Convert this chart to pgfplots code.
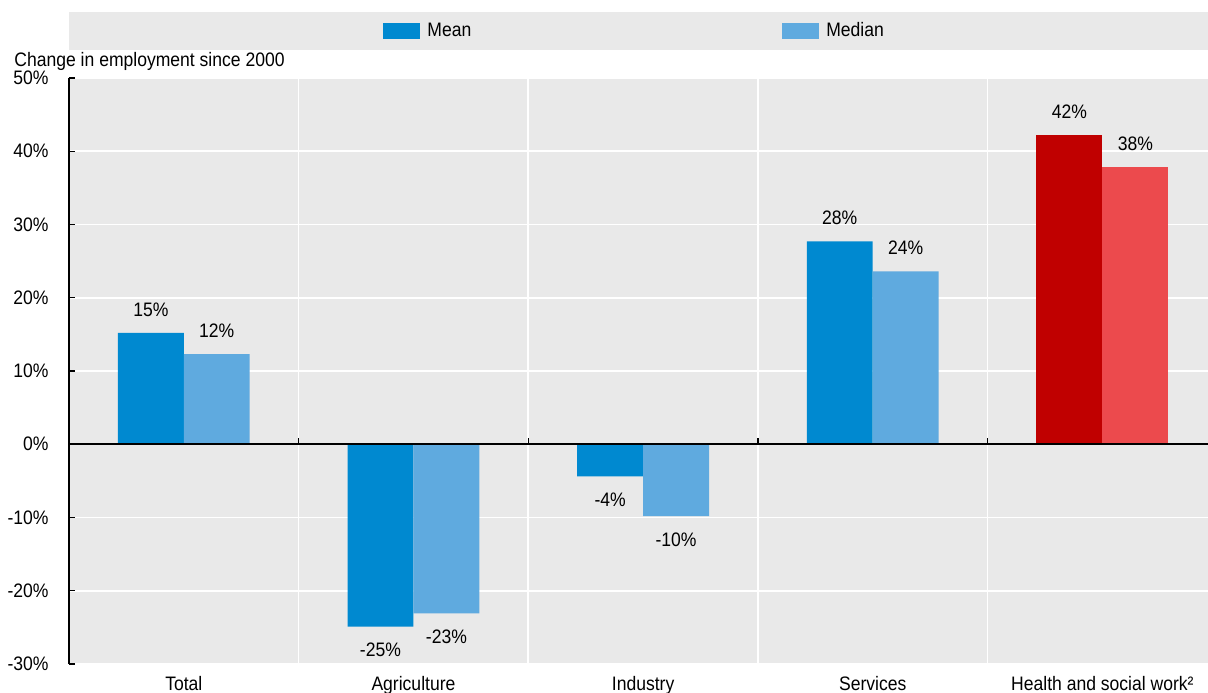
\documentclass[border=0pt]{standalone}
\usepackage{fontspec}
\setmainfont{Liberation Sans}[FakeStretch=0.9]
\usepackage{pgfplots}
\pgfplotsset{compat=1.18}

\definecolor{bggray}{HTML}{E9E9E9}
\definecolor{meanblue}{HTML}{0089D0}
\definecolor{medblue}{HTML}{5FAADF}
\definecolor{meanred}{HTML}{C00000}
\definecolor{medred}{HTML}{EC4A4D}
\newcommand\fs{\fontsize{9.75pt}{11pt}\selectfont}

\begin{document}
\begin{tikzpicture}
\begin{axis}[
    name=ax,
    scale only axis,
    width=569.5pt, height=293pt,
    clip=false,
    xmin=-0.5, xmax=4.46,
    ymin=-30, ymax=50,
    axis background/.style={fill=bggray},
    axis x line*=bottom,
    x axis line style={draw=none},
    axis y line*=left,
    y axis line style={black, line width=1pt},
    xtick={0,1,2,3,4},
    xticklabels={Total, Agriculture, Industry, Services, Health and social work²},
    minor xtick={0.5,1.5,2.5,3.5},
    xminorgrids,
    minor x grid style={white, line width=0.8pt},
    x tick style={draw=none},
    minor x tick style={draw=none},
    xticklabel style={font=\fs, anchor=base, yshift=-10.5pt},
    ytick={-30,-20,...,50},
    yticklabels={-30\%,-20\%,-10\%,0\%,10\%,20\%,30\%,40\%,50\%},
    ymajorgrids,
    major y grid style={white, line width=0.8pt},
    y tick style={black, line width=0.6pt},
    tick align=inside,
    major tick length=3pt,
    yticklabel style={font=\fs, inner sep=0pt, xshift=-10pt},
    ylabel={Change in employment since 2000},
    ylabel style={rotate=-90, at={(rel axis cs:0,1)}, anchor=base west,
        inner sep=0pt, xshift=-27.5pt, yshift=5.5pt, font=\fs},
    ybar,
    bar width=0.287,
    point meta=explicit symbolic,
    visualization depends on=rawy \as \ry,
    nodes near coords,
    nodes near coords style={font=\fs, black, inner sep=8pt,
        anchor={\ifdim\ry pt<0pt north\else south\fi}},
    legend columns=2,
    legend style={at={(rel axis cs:0.2757,1.0802)}, anchor=west,
        draw=none, fill=none, inner sep=0pt, font=\fs,
        nodes={inner sep=2pt},
        /tikz/every even column/.append style={column sep=153.5pt}},
    legend image code/.code={\fill[#1] (0pt,-4pt) rectangle (18.5pt,4pt); \path (20pt,0pt);},
]
\fill[bggray] (rel axis cs:0,1.0478) rectangle (rel axis cs:1,1.1126);

\addplot[fill=meanblue, draw=none, bar shift=-0.1436] coordinates {
    (0,15.2) [15\%] (1,-24.9) [-25\%] (2,-4.4) [-4\%] (3,27.7) [28\%]};
\addlegendentry{Mean}
\addplot[fill=medblue, draw=none, bar shift=0.1436] coordinates {
    (0,12.3) [12\%] (1,-23.1) [-23\%] (2,-9.8) [-10\%] (3,23.6) [24\%]};
\addlegendentry{Median}
\addplot[fill=meanred, draw=none, bar shift=-0.1436, forget plot] coordinates {
    (4,42.2) [42\%]};
\addplot[fill=medred, draw=none, bar shift=0.1436, forget plot] coordinates {
    (4,37.8) [38\%]};

\draw[black, line width=1pt] (axis cs:-0.5,0) -- (axis cs:4.46,0);
\draw[black, line width=0.6pt] (axis cs:0.5,0) -- ([yshift=3pt]axis cs:0.5,0);
\draw[black, line width=0.6pt] (axis cs:1.5,0) -- ([yshift=3pt]axis cs:1.5,0);
\draw[black, line width=0.6pt] (axis cs:2.5,0) -- ([yshift=3pt]axis cs:2.5,0);
\draw[black, line width=0.6pt] (axis cs:3.5,0) -- ([yshift=3pt]axis cs:3.5,0);
\end{axis}
\pgfresetboundingbox
\path[use as bounding box] ([xshift=-34.5pt,yshift=-14.5pt]ax.south west)
    rectangle ([yshift=39pt]ax.north east);
\end{tikzpicture}
\end{document}
